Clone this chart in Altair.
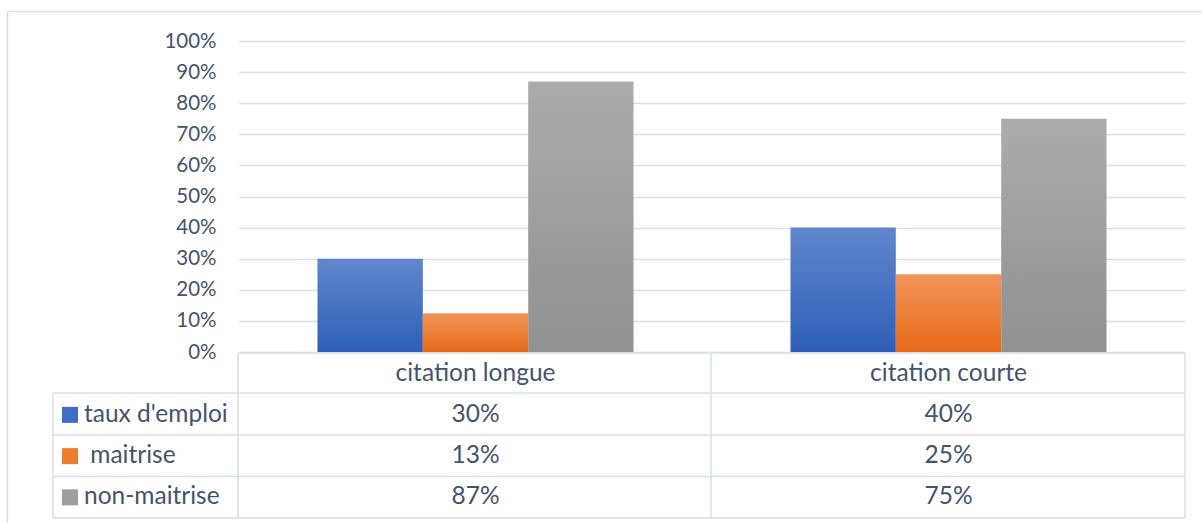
import altair as alt
import pandas as pd

# Values of the chart
categories = ["citation longue", "citation courte"]
series_names = ["taux d'emploi", "\u200b\u00a0maitrise", "non-maitrise"]
taux_emploi = [0.30, 0.40]
maitrise = [0.125, 0.25]
non_maitrise = [0.87, 0.75]
y_ticks = [0, 0.1, 0.2, 0.3, 0.4, 0.5, 0.6, 0.7, 0.8, 0.9, 1.0]

# Styling
FONT = "Lato"
TEXT = "#44546a"
LINE = "#dadfe6"
AXIS_FONT_SIZE = 20.5
TABLE_FONT_SIZE = 24.5
W, H = 946, 311
PAD_LEFT, PAD_TOP = 239, 41

swatch_colors = ["#3f6cc4", "#ee7c30", "#9e9e9e"]
gradients = [
    ("#6187cd", "#2e5eb8"),
    ("#f19459", "#e86a19"),
    ("#acacac", "#919191"),
]

series_values = [taux_emploi, maitrise, non_maitrise]
df = pd.DataFrame(
    [
        {"category": c, "series": s, "row": s, "value": v}
        for s, vals in zip(series_names, series_values)
        for c, v in zip(categories, vals)
    ]
)
header_df = pd.DataFrame({"category": categories, "row": ["hdr"] * len(categories)})
legend_df = pd.DataFrame({"series": series_names, "row": series_names})
one = pd.DataFrame({"k": [0]})

x_enc = alt.X(
    "category:N",
    scale=alt.Scale(domain=categories, paddingInner=0, paddingOuter=0),
    axis=None,
)
xo_enc = alt.XOffset(
    "series:N",
    scale=alt.Scale(domain=series_names, paddingInner=0, paddingOuter=0.745),
)
y_enc = alt.Y(
    "value:Q",
    scale=alt.Scale(domain=[0, 1]),
    axis=alt.Axis(
        values=y_ticks,
        format=".0%",
        domain=False,
        ticks=False,
        labelPadding=23,
        labelFont=FONT,
        labelFontSize=AXIS_FONT_SIZE,
        labelColor=TEXT,
        gridColor=LINE,
        gridWidth=1.3,
        title=None,
    ),
)


def vertical_gradient(top, bottom):
    return alt.Gradient(
        gradient="linear",
        stops=[
            alt.GradientStop(color=top, offset=0),
            alt.GradientStop(color=bottom, offset=1),
        ],
        x1=0, x2=0, y1=0, y2=1,
    )


bar_layers = []
for name, (top, bottom) in zip(series_names, gradients):
    bar_layers.append(
        alt.Chart(df[df["series"] == name])
        .mark_bar(color=vertical_gradient(top, bottom))
        .encode(x=x_enc, xOffset=xo_enc, y=y_enc)
    )
bars = alt.layer(*bar_layers)

# Data table below the plot
table_y = alt.Y(
    "row:N",
    scale=alt.Scale(type="point", domain=["hdr"] + series_names, range=[312, 477], padding=0.5),
    axis=None,
)

header_text = alt.Chart(header_df).mark_text(
    font=FONT, fontSize=TABLE_FONT_SIZE, color=TEXT, baseline="middle"
).encode(x=x_enc, y=table_y, text="category:N")

cell_text = alt.Chart(df).mark_text(
    font=FONT, fontSize=TABLE_FONT_SIZE, color=TEXT, baseline="middle"
).encode(x=x_enc, y=table_y, text=alt.Text("value:Q", format=".0%"))

legend_text = alt.Chart(legend_df).mark_text(
    font=FONT, fontSize=TABLE_FONT_SIZE, color=TEXT, baseline="middle", align="left"
).encode(x=alt.value(-155), y=table_y, text="series:N")

swatches = alt.Chart(legend_df).mark_square(size=256, opacity=1).encode(
    x=alt.value(-169),
    y=table_y,
    color=alt.Color(
        "series:N",
        scale=alt.Scale(domain=series_names, range=swatch_colors),
        legend=None,
    ),
)


def hline(y, x1, x2, color=LINE):
    return alt.Chart(one).mark_rule(color=color, strokeWidth=1.5).encode(
        x=alt.value(x1), x2=alt.value(x2), y=alt.value(y)
    )


def vline(x, y1, y2, color=LINE):
    return alt.Chart(one).mark_rule(color=color, strokeWidth=1.5).encode(
        x=alt.value(x), y=alt.value(y1), y2=alt.value(y2)
    )


grid_rules = [
    hline(312, -1, W),
    hline(352, -186, W),
    hline(394, -186, W),
    hline(435.5, -186, W),
    hline(477, -186, W),
    vline(-1, 312, 477),
    vline(472, 312, 477),
    vline(W, 312, 477),
    vline(-186, 352, 477),
    # outer frame of the chart
    hline(-29.5, -231.5, 1000, "#d9dde3"),
    vline(-231.5, -29.5, 520, "#d9dde3"),
]

table = alt.layer(*grid_rules, swatches, header_text, cell_text, legend_text)

chart = (
    alt.layer(bars, table)
    .resolve_scale(y="independent")
    .properties(
        width=W,
        height=H,
        autosize=alt.AutoSizeParams(type="none"),
        padding={"left": PAD_LEFT, "top": PAD_TOP, "right": 1202 - PAD_LEFT - W, "bottom": 523 - PAD_TOP - H},
        background="white",
    )
    .configure_view(strokeWidth=0)
)

chart.save("out.html", embed_options={"renderer": "svg", "actions": False})
